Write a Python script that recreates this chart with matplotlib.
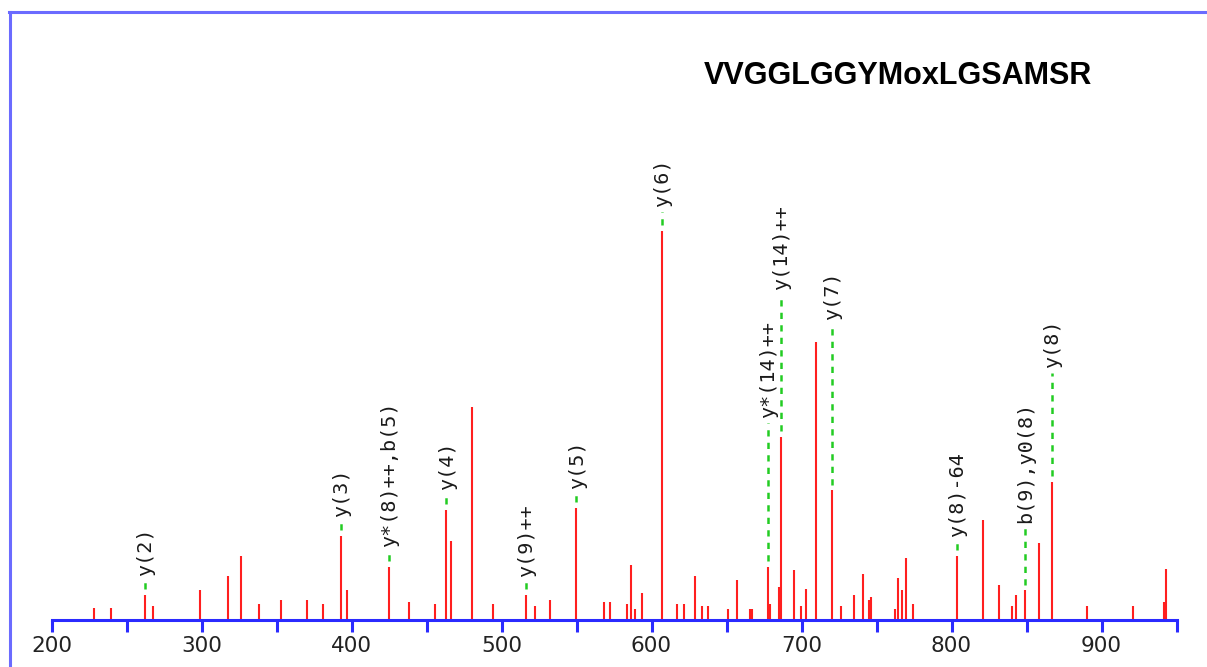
import matplotlib
matplotlib.use("Agg")
import matplotlib.pyplot as plt
from matplotlib.lines import Line2D

# ---- data ----
mz = [228.0, 239.8, 262.0, 267.8, 298.7, 317.8, 326.4, 338.2, 352.9, 370.4,
      380.9, 392.7, 397.1, 424.9, 438.0, 455.8, 463.1, 466.0, 480.5, 494.0,
      516.0, 522.0, 532.1, 549.8, 568.4, 572.0, 583.4, 586.3, 589.3, 593.7,
      606.9, 617.2, 621.7, 629.0, 633.4, 637.9, 650.9, 656.8, 665.6, 667.1,
      677.6, 678.7, 684.9, 686.0, 695.1, 699.5, 702.7, 709.8, 720.2, 726.0,
      734.7, 740.7, 744.9, 746.3, 762.4, 764.0, 766.9, 769.8, 774.2, 803.7,
      821.3, 831.6, 840.4, 843.3, 849.1, 858.0, 866.9, 890.2, 921.0, 941.6,
      943.1]
intensity = [3.0, 3.0, 6.4, 3.5, 7.5, 11.3, 16.4, 4.1, 5.1, 5.1,
             4.1, 21.6, 7.5, 13.5, 4.6, 4.0, 28.2, 20.2, 54.7, 4.0,
             6.4, 3.5, 5.1, 28.8, 4.6, 4.6, 4.0, 14.1, 2.8, 6.9,
             100.0, 4.0, 4.0, 11.2, 3.5, 3.5, 2.8, 10.1, 2.8, 2.8,
             13.5, 4.1, 8.4, 47.0, 12.8, 3.4, 7.9, 71.5, 33.2, 3.4,
             6.4, 11.8, 5.1, 5.7, 2.8, 10.7, 7.5, 15.8, 4.1, 16.3,
             25.5, 9.0, 3.5, 6.4, 7.5, 19.7, 35.5, 3.4, 3.4, 4.6,
             12.9]

label_mz = [262.0, 392.7, 424.9, 463.1, 516.0, 549.8, 606.9, 677.6, 686.0,
            720.2, 803.7, 849.1, 866.9]
label_peak = [6.4, 21.6, 13.5, 28.2, 6.4, 28.8, 100.0, 13.5, 47.0,
              33.2, 16.3, 7.5, 35.5]
label_text = ["y(2)", "y(3)", "y*(8)++,b(5)", "y(4)", "y(9)++", "y(5)", "y(6)",
              "y*(14)++", "y(14)++", "y(7)", "y(8)-64", "b(9),y0(8)", "y(8)"]
label_level = [11.1, 26.4, 18.7, 33.3, 11.0, 33.7, 106.1, 51.8, 84.7,
               77.0, 21.3, 24.7, 64.6]

tick_pos = [200, 250, 300, 350, 400, 450, 500, 550, 600, 650, 700, 750, 800,
            850, 900, 950]
tick_labels = ["200", "", "300", "", "400", "", "500", "", "600", "", "700", "",
               "800", "", "900", ""]

title = "VVGGLGGYMoxLGSAMSR"

# ---- figure ----
W, H = 1207, 667
fig = plt.figure(figsize=(W / 100, H / 100), dpi=100)
fig.patch.set_facecolor("white")

left_px, right_px = 51.5, 1176.5
base_px, top_px = 619.5, 30.0
ax = fig.add_axes([left_px / W, (H - base_px) / H,
                   (right_px - left_px) / W, (base_px - top_px) / H])
ymax = (base_px - top_px) / 3.887
ax.set_xlim(200, 950)
ax.set_ylim(0, ymax)
ax.set_facecolor("white")

for s in ["left", "right", "top"]:
    ax.spines[s].set_visible(False)
ax.spines["bottom"].set_color("#2a2aff")
ax.spines["bottom"].set_linewidth(2.2)
ax.spines["bottom"].set_zorder(5)

ax.set_yticks([])
ax.set_xticks(tick_pos)
ax.set_xticklabels(tick_labels)
ax.tick_params(axis="x", direction="out", length=8.6, width=2.2,
               color="#2a2aff", labelsize=15.5, labelcolor="#222222", pad=3)

ax.vlines(mz, 0, intensity, colors="#ff1f1f", linewidth=1.5, zorder=3)

for x, pk, lv, txt in zip(label_mz, label_peak, label_level, label_text):
    ax.plot([x, x], [pk + 1.5, lv - 1.2], color="#22cc22", linewidth=1.8,
            linestyle=(0, (2.5, 2.5)), zorder=2, solid_capstyle="butt",
            dash_capstyle="butt")
    ax.text(x + 0.6, lv, txt, rotation=90, ha="center", va="bottom",
            fontsize=14.5, family="DejaVu Sans Mono", color="#1a1a1a")

fig.text(897.5 / W, 1 - 76 / H, title, ha="center", va="center",
         fontsize=22, fontweight="bold", family="Liberation Sans", color="black")

# figure border (top and left)
fig.add_artist(Line2D([9 / W, 1.0], [1 - 11.5 / H, 1 - 11.5 / H],
                      transform=fig.transFigure, color="#6b6bff", linewidth=2.2))
fig.add_artist(Line2D([9.5 / W, 9.5 / W], [0, 1 - 11.5 / H],
                      transform=fig.transFigure, color="#6b6bff", linewidth=2.2))

fig.savefig("out.png", dpi=100, facecolor="white")
